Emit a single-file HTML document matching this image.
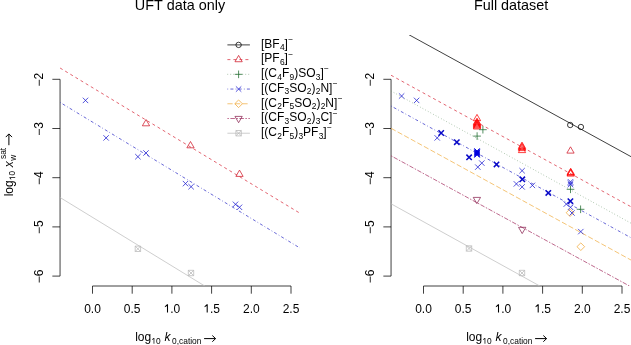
<!DOCTYPE html>
<html><head><meta charset="utf-8"><style>
html,body{margin:0;padding:0;background:#fff;width:631px;height:345px;overflow:hidden}
svg{display:block;will-change:transform;font-family:"Liberation Sans",sans-serif;font-kerning:none}
polygon,circle{stroke-linejoin:round}
</style></head><body>
<svg width="631" height="345" viewBox="0 0 631 345" font-family="Liberation Sans, sans-serif">
<rect width="631" height="345" fill="#fff"/>
<defs>
<clipPath id="c0"><rect x="60.05" y="35.0" width="239.75" height="251.0"/></clipPath>
<clipPath id="c1"><rect x="391.05" y="35.0" width="239.95000000000005" height="251.0"/></clipPath>
</defs>
<text x="180.05" y="10.3" font-size="14.4" text-anchor="middle">UFT data only</text>
<text x="511.1" y="10.3" font-size="14.4" text-anchor="middle">Full dataset</text>
<line x1="60.05" y1="79.30" x2="60.05" y2="276.10" stroke="#000" stroke-width="0.75"/>
<line x1="52.35" y1="79.30" x2="60.05" y2="79.30" stroke="#000" stroke-width="0.75"/>
<line x1="52.35" y1="128.50" x2="60.05" y2="128.50" stroke="#000" stroke-width="0.75"/>
<line x1="52.35" y1="177.70" x2="60.05" y2="177.70" stroke="#000" stroke-width="0.75"/>
<line x1="52.35" y1="226.90" x2="60.05" y2="226.90" stroke="#000" stroke-width="0.75"/>
<line x1="52.35" y1="276.10" x2="60.05" y2="276.10" stroke="#000" stroke-width="0.75"/>
<line x1="92.50" y1="286.00" x2="291.00" y2="286.00" stroke="#000" stroke-width="0.75"/>
<line x1="92.50" y1="286.00" x2="92.50" y2="293.70" stroke="#000" stroke-width="0.75"/>
<line x1="132.20" y1="286.00" x2="132.20" y2="293.70" stroke="#000" stroke-width="0.75"/>
<line x1="171.90" y1="286.00" x2="171.90" y2="293.70" stroke="#000" stroke-width="0.75"/>
<line x1="211.60" y1="286.00" x2="211.60" y2="293.70" stroke="#000" stroke-width="0.75"/>
<line x1="251.30" y1="286.00" x2="251.30" y2="293.70" stroke="#000" stroke-width="0.75"/>
<line x1="291.00" y1="286.00" x2="291.00" y2="293.70" stroke="#000" stroke-width="0.75"/>
<g transform="translate(84.16,312.50)" fill="#000"><text x="0.00" y="0.00" font-size="12.0">0.0</text></g>
<g transform="translate(123.86,312.50)" fill="#000"><text x="0.00" y="0.00" font-size="12.0">0.5</text></g>
<g transform="translate(163.56,312.50)" fill="#000"><path d="M583,0V1120L223,905V1075L600,1420H763V0Z" transform="translate(0.00,0.00) scale(0.00586,-0.00586)" stroke="none"/><text x="6.67" y="0.00" font-size="12.0">.0</text></g>
<g transform="translate(203.26,312.50)" fill="#000"><path d="M583,0V1120L223,905V1075L600,1420H763V0Z" transform="translate(0.00,0.00) scale(0.00586,-0.00586)" stroke="none"/><text x="6.67" y="0.00" font-size="12.0">.5</text></g>
<g transform="translate(242.96,312.50)" fill="#000"><text x="0.00" y="0.00" font-size="12.0">2.0</text></g>
<g transform="translate(282.66,312.50)" fill="#000"><text x="0.00" y="0.00" font-size="12.0">2.5</text></g>
<text transform="translate(42.60,79.65) rotate(-90)" font-size="12" text-anchor="middle">−2</text>
<text transform="translate(42.60,128.85) rotate(-90)" font-size="12" text-anchor="middle">−3</text>
<text transform="translate(42.60,178.05) rotate(-90)" font-size="12" text-anchor="middle">−4</text>
<text transform="translate(42.60,227.25) rotate(-90)" font-size="12" text-anchor="middle">−5</text>
<text transform="translate(42.60,276.45) rotate(-90)" font-size="12" text-anchor="middle">−6</text>
<g transform="translate(135.20,341.00)" fill="#000"><text x="0.00" y="0.00" font-size="12.0">log</text><path d="M583,0V1120L223,905V1075L600,1420H763V0Z" transform="translate(16.01,2.70) scale(0.00410,-0.00410)" stroke="none"/><text x="20.69" y="2.70" font-size="8.4">0</text><text x="29.26" y="0.00" font-size="12.0" font-style="italic">k</text><text x="36.86" y="2.70" font-size="8.4">0,cation</text></g>
<path d="M204.10,338.6H215.50M212.30,335.50L215.60,338.6L212.30,341.70" fill="none" stroke="#000" stroke-width="1"/>
<line x1="391.05" y1="79.30" x2="391.05" y2="276.10" stroke="#000" stroke-width="0.75"/>
<line x1="383.35" y1="79.30" x2="391.05" y2="79.30" stroke="#000" stroke-width="0.75"/>
<line x1="383.35" y1="128.50" x2="391.05" y2="128.50" stroke="#000" stroke-width="0.75"/>
<line x1="383.35" y1="177.70" x2="391.05" y2="177.70" stroke="#000" stroke-width="0.75"/>
<line x1="383.35" y1="226.90" x2="391.05" y2="226.90" stroke="#000" stroke-width="0.75"/>
<line x1="383.35" y1="276.10" x2="391.05" y2="276.10" stroke="#000" stroke-width="0.75"/>
<line x1="423.50" y1="286.00" x2="622.00" y2="286.00" stroke="#000" stroke-width="0.75"/>
<line x1="423.50" y1="286.00" x2="423.50" y2="293.70" stroke="#000" stroke-width="0.75"/>
<line x1="463.20" y1="286.00" x2="463.20" y2="293.70" stroke="#000" stroke-width="0.75"/>
<line x1="502.90" y1="286.00" x2="502.90" y2="293.70" stroke="#000" stroke-width="0.75"/>
<line x1="542.60" y1="286.00" x2="542.60" y2="293.70" stroke="#000" stroke-width="0.75"/>
<line x1="582.30" y1="286.00" x2="582.30" y2="293.70" stroke="#000" stroke-width="0.75"/>
<line x1="622.00" y1="286.00" x2="622.00" y2="293.70" stroke="#000" stroke-width="0.75"/>
<g transform="translate(415.16,312.50)" fill="#000"><text x="0.00" y="0.00" font-size="12.0">0.0</text></g>
<g transform="translate(454.86,312.50)" fill="#000"><text x="0.00" y="0.00" font-size="12.0">0.5</text></g>
<g transform="translate(494.56,312.50)" fill="#000"><path d="M583,0V1120L223,905V1075L600,1420H763V0Z" transform="translate(0.00,0.00) scale(0.00586,-0.00586)" stroke="none"/><text x="6.67" y="0.00" font-size="12.0">.0</text></g>
<g transform="translate(534.26,312.50)" fill="#000"><path d="M583,0V1120L223,905V1075L600,1420H763V0Z" transform="translate(0.00,0.00) scale(0.00586,-0.00586)" stroke="none"/><text x="6.67" y="0.00" font-size="12.0">.5</text></g>
<g transform="translate(573.96,312.50)" fill="#000"><text x="0.00" y="0.00" font-size="12.0">2.0</text></g>
<g transform="translate(613.66,312.50)" fill="#000"><text x="0.00" y="0.00" font-size="12.0">2.5</text></g>
<text transform="translate(373.60,79.65) rotate(-90)" font-size="12" text-anchor="middle">−2</text>
<text transform="translate(373.60,128.85) rotate(-90)" font-size="12" text-anchor="middle">−3</text>
<text transform="translate(373.60,178.05) rotate(-90)" font-size="12" text-anchor="middle">−4</text>
<text transform="translate(373.60,227.25) rotate(-90)" font-size="12" text-anchor="middle">−5</text>
<text transform="translate(373.60,276.45) rotate(-90)" font-size="12" text-anchor="middle">−6</text>
<g transform="translate(466.20,341.00)" fill="#000"><text x="0.00" y="0.00" font-size="12.0">log</text><path d="M583,0V1120L223,905V1075L600,1420H763V0Z" transform="translate(16.01,2.70) scale(0.00410,-0.00410)" stroke="none"/><text x="20.69" y="2.70" font-size="8.4">0</text><text x="29.26" y="0.00" font-size="12.0" font-style="italic">k</text><text x="36.86" y="2.70" font-size="8.4">0,cation</text></g>
<path d="M535.10,338.6H546.50M543.30,335.50L546.60,338.6L543.30,341.70" fill="none" stroke="#000" stroke-width="1"/>
<g transform="translate(12.50,196.30) rotate(-90)" fill="#000"><text x="0.00" y="0.00" font-size="12.0">log</text><path d="M583,0V1120L223,905V1075L600,1420H763V0Z" transform="translate(16.01,2.70) scale(0.00410,-0.00410)" stroke="none"/><text x="20.69" y="2.70" font-size="8.4">0</text><text x="28.96" y="0.00" font-size="12.0" font-style="italic">x</text><text x="35.56" y="3.90" font-size="8.4">w</text></g>
<g transform="translate(12.5,196.30) rotate(-90)"><text x="37.26" y="-6.8" font-size="8.4">sat</text></g>
<path d="M8.9,145.20V134.00M5.80,137.10L8.9,133.90L12.00,137.10" fill="none" stroke="#000" stroke-width="1"/>
<g clip-path="url(#c0)">
<line x1="60.05" y1="67.99" x2="304.80" y2="216.16" stroke="#D83040" stroke-width="0.75" stroke-dasharray="3 3"/>
</g>
<g clip-path="url(#c0)">
<line x1="60.05" y1="102.39" x2="304.80" y2="250.95" stroke="#3434C8" stroke-width="0.75" stroke-dasharray="0.75 2.25 3 2.25"/>
</g>
<g clip-path="url(#c0)">
<line x1="60.05" y1="197.49" x2="304.80" y2="347.20" stroke="#BEBEBE" stroke-width="0.75"/>
</g>
<g clip-path="url(#c1)">
<line x1="391.05" y1="24.91" x2="636.00" y2="159.39" stroke="#000000" stroke-width="0.75"/>
</g>
<g clip-path="url(#c1)">
<line x1="391.05" y1="75.26" x2="636.00" y2="209.49" stroke="#D83040" stroke-width="0.75" stroke-dasharray="3 3"/>
</g>
<g clip-path="url(#c1)">
<line x1="391.05" y1="91.01" x2="636.00" y2="225.97" stroke="#78A078" stroke-width="0.75" stroke-dasharray="0.75 2.25"/>
</g>
<g clip-path="url(#c1)">
<line x1="391.05" y1="106.01" x2="636.00" y2="240.49" stroke="#3434C8" stroke-width="0.75" stroke-dasharray="0.75 2.25 3 2.25"/>
</g>
<g clip-path="url(#c1)">
<line x1="391.05" y1="128.31" x2="636.00" y2="262.79" stroke="#F0B048" stroke-width="0.75" stroke-dasharray="5.25 2.25"/>
</g>
<g clip-path="url(#c1)">
<line x1="391.05" y1="155.81" x2="636.00" y2="289.55" stroke="#A83868" stroke-width="0.75" stroke-dasharray="1.5 1.5 4.5 1.5"/>
</g>
<g clip-path="url(#c1)">
<line x1="391.05" y1="203.81" x2="636.00" y2="339.17" stroke="#BEBEBE" stroke-width="0.75"/>
</g>
<path d="M82.80,97.70L88.20,103.10M82.80,103.10L88.20,97.70" fill="none" stroke="#1A1AD0" stroke-width="0.75"/>
<path d="M103.40,135.20L108.80,140.60M103.40,140.60L108.80,135.20" fill="none" stroke="#1A1AD0" stroke-width="0.75"/>
<path d="M135.20,154.00L140.60,159.40M135.20,159.40L140.60,154.00" fill="none" stroke="#1A1AD0" stroke-width="0.75"/>
<path d="M143.30,150.30L148.70,155.70M143.30,155.70L148.70,150.30" fill="none" stroke="#1A1AD0" stroke-width="0.75"/>
<path d="M182.80,180.90L188.20,186.30M182.80,186.30L188.20,180.90" fill="none" stroke="#1A1AD0" stroke-width="0.75"/>
<path d="M188.40,184.00L193.80,189.40M188.40,189.40L193.80,184.00" fill="none" stroke="#1A1AD0" stroke-width="0.75"/>
<path d="M232.80,201.60L238.20,207.00M232.80,207.00L238.20,201.60" fill="none" stroke="#1A1AD0" stroke-width="0.75"/>
<path d="M236.80,204.60L242.20,210.00M236.80,210.00L242.20,204.60" fill="none" stroke="#1A1AD0" stroke-width="0.75"/>
<polygon points="146.00,119.50 149.64,125.80 142.36,125.80" fill="none" stroke="#D01828" stroke-width="0.75"/>
<polygon points="190.50,141.50 194.14,147.80 186.86,147.80" fill="none" stroke="#D01828" stroke-width="0.75"/>
<polygon points="239.50,170.10 243.14,176.40 235.86,176.40" fill="none" stroke="#D01828" stroke-width="0.75"/>
<path d="M135.20,246.10H140.60V251.50H135.20ZM135.20,246.10L140.60,251.50M135.20,251.50L140.60,246.10" fill="none" stroke="#B8B8B8" stroke-width="0.75"/>
<path d="M188.30,270.30H193.70V275.70H188.30ZM188.30,270.30L193.70,275.70M188.30,275.70L193.70,270.30" fill="none" stroke="#B8B8B8" stroke-width="0.75"/>
<circle cx="570.20" cy="125.00" r="2.70" fill="none" stroke="#000000" stroke-width="0.75"/>
<circle cx="580.90" cy="127.00" r="2.70" fill="none" stroke="#000000" stroke-width="0.75"/>
<polygon points="477.00,114.40 480.64,120.70 473.36,120.70" fill="none" stroke="#FF0000" stroke-width="0.75"/>
<polygon points="477.00,118.10 480.64,124.40 473.36,124.40" fill="none" stroke="#FF0000" stroke-width="0.75"/>
<polygon points="477.00,119.02 480.64,125.32 473.36,125.32" fill="none" stroke="#FF0000" stroke-width="0.75"/>
<polygon points="477.00,119.94 480.64,126.24 473.36,126.24" fill="none" stroke="#FF0000" stroke-width="0.75"/>
<polygon points="477.00,120.86 480.64,127.16 473.36,127.16" fill="none" stroke="#FF0000" stroke-width="0.75"/>
<polygon points="477.00,121.78 480.64,128.08 473.36,128.08" fill="none" stroke="#FF0000" stroke-width="0.75"/>
<polygon points="477.00,122.70 480.64,129.00 473.36,129.00" fill="none" stroke="#FF0000" stroke-width="0.75"/>
<polygon points="522.00,142.10 525.64,148.40 518.36,148.40" fill="none" stroke="#FF0000" stroke-width="0.75"/>
<polygon points="522.00,143.20 525.64,149.50 518.36,149.50" fill="none" stroke="#FF0000" stroke-width="0.75"/>
<polygon points="522.00,144.30 525.64,150.60 518.36,150.60" fill="none" stroke="#FF0000" stroke-width="0.75"/>
<polygon points="522.00,146.30 525.64,152.60 518.36,152.60" fill="none" stroke="#FF0000" stroke-width="0.75"/>
<polygon points="570.50,146.80 574.14,153.10 566.86,153.10" fill="none" stroke="#D01828" stroke-width="0.75"/>
<polygon points="570.70,168.20 574.34,174.50 567.06,174.50" fill="none" stroke="#FF0000" stroke-width="0.75"/>
<polygon points="570.70,169.00 574.34,175.30 567.06,175.30" fill="none" stroke="#FF0000" stroke-width="0.75"/>
<polygon points="570.70,169.80 574.34,176.10 567.06,176.10" fill="none" stroke="#FF0000" stroke-width="0.75"/>
<path d="M473.28,136.10H480.92M477.10,132.28V139.92" fill="none" stroke="#1C6A2C" stroke-width="0.75"/>
<path d="M479.08,129.70H486.72M482.90,125.88V133.52" fill="none" stroke="#1C6A2C" stroke-width="0.75"/>
<path d="M566.68,189.30H574.32M570.50,185.48V193.12" fill="none" stroke="#1C6A2C" stroke-width="0.75"/>
<path d="M576.78,209.30H584.42M580.60,205.48V213.12" fill="none" stroke="#1C6A2C" stroke-width="0.75"/>
<path d="M398.90,93.30L404.30,98.70M398.90,98.70L404.30,93.30" fill="none" stroke="#1A1AD0" stroke-width="0.75"/>
<path d="M413.90,97.70L419.30,103.10M413.90,103.10L419.30,97.70" fill="none" stroke="#1A1AD0" stroke-width="0.75"/>
<path d="M434.50,135.20L439.90,140.60M434.50,140.60L439.90,135.20" fill="none" stroke="#1A1AD0" stroke-width="0.75"/>
<path d="M479.10,160.40L484.50,165.80M479.10,165.80L484.50,160.40" fill="none" stroke="#1A1AD0" stroke-width="0.75"/>
<path d="M475.10,164.40L480.50,169.80M475.10,169.80L480.50,164.40" fill="none" stroke="#1A1AD0" stroke-width="0.75"/>
<path d="M519.40,168.00L524.80,173.40M519.40,173.40L524.80,168.00" fill="none" stroke="#1A1AD0" stroke-width="0.75"/>
<path d="M513.70,181.20L519.10,186.60M513.70,186.60L519.10,181.20" fill="none" stroke="#1A1AD0" stroke-width="0.75"/>
<path d="M519.40,184.20L524.80,189.60M519.40,189.60L524.80,184.20" fill="none" stroke="#1A1AD0" stroke-width="0.75"/>
<path d="M529.70,182.70L535.10,188.10M529.70,188.10L535.10,182.70" fill="none" stroke="#1A1AD0" stroke-width="0.75"/>
<path d="M567.80,179.10L573.20,184.50M567.80,184.50L573.20,179.10" fill="none" stroke="#1A1AD0" stroke-width="0.75"/>
<path d="M567.80,180.50L573.20,185.90M567.80,185.90L573.20,180.50" fill="none" stroke="#1A1AD0" stroke-width="0.75"/>
<path d="M567.80,181.90L573.20,187.30M567.80,187.30L573.20,181.90" fill="none" stroke="#1A1AD0" stroke-width="0.75"/>
<path d="M563.60,201.40L569.00,206.80M563.60,206.80L569.00,201.40" fill="none" stroke="#1A1AD0" stroke-width="0.75"/>
<path d="M567.80,204.60L573.20,210.00M567.80,210.00L573.20,204.60" fill="none" stroke="#1A1AD0" stroke-width="0.75"/>
<path d="M569.30,210.30L574.70,215.70M569.30,215.70L574.70,210.30" fill="none" stroke="#1A1AD0" stroke-width="0.75"/>
<path d="M578.10,228.90L583.50,234.30M578.10,234.30L583.50,228.90" fill="none" stroke="#1A1AD0" stroke-width="0.75"/>
<path d="M438.50,130.30L443.90,135.70M438.50,135.70L443.90,130.30" fill="none" stroke="#0A0AC8" stroke-width="1.5"/>
<path d="M454.10,139.50L459.50,144.90M454.10,144.90L459.50,139.50" fill="none" stroke="#0A0AC8" stroke-width="1.5"/>
<path d="M466.40,154.60L471.80,160.00M466.40,160.00L471.80,154.60" fill="none" stroke="#0A0AC8" stroke-width="1.5"/>
<path d="M493.80,161.70L499.20,167.10M493.80,167.10L499.20,161.70" fill="none" stroke="#0A0AC8" stroke-width="1.5"/>
<path d="M519.60,176.60L525.00,182.00M519.60,182.00L525.00,176.60" fill="none" stroke="#0A0AC8" stroke-width="1.5"/>
<path d="M545.60,190.20L551.00,195.60M545.60,195.60L551.00,190.20" fill="none" stroke="#0A0AC8" stroke-width="1.5"/>
<path d="M567.70,198.50L573.10,203.90M567.70,203.90L573.10,198.50" fill="none" stroke="#0A0AC8" stroke-width="1.5"/>
<path d="M474.35,148.40L479.75,153.80M474.35,153.80L479.75,148.40" fill="none" stroke="#0000E0" stroke-width="1.0"/>
<path d="M474.35,149.02L479.75,154.42M474.35,154.42L479.75,149.02" fill="none" stroke="#0000E0" stroke-width="1.0"/>
<path d="M474.35,149.64L479.75,155.04M474.35,155.04L479.75,149.64" fill="none" stroke="#0000E0" stroke-width="1.0"/>
<path d="M474.35,150.26L479.75,155.66M474.35,155.66L479.75,150.26" fill="none" stroke="#0000E0" stroke-width="1.0"/>
<path d="M474.35,150.88L479.75,156.28M474.35,156.28L479.75,150.88" fill="none" stroke="#0000E0" stroke-width="1.0"/>
<path d="M474.35,151.50L479.75,156.90M474.35,156.90L479.75,151.50" fill="none" stroke="#0000E0" stroke-width="1.0"/>
<path d="M474.35,152.12L479.75,157.52M474.35,157.52L479.75,152.12" fill="none" stroke="#0000E0" stroke-width="1.0"/>
<polygon points="566.18,212.70 570.00,208.88 573.82,212.70 570.00,216.52" fill="none" stroke="#F0A838" stroke-width="0.75"/>
<polygon points="576.98,246.70 580.80,242.88 584.62,246.70 580.80,250.52" fill="none" stroke="#F0A838" stroke-width="0.75"/>
<polygon points="476.90,203.70 480.54,197.40 473.26,197.40" fill="none" stroke="#8A2452" stroke-width="0.75"/>
<polygon points="522.20,233.60 525.84,227.30 518.56,227.30" fill="none" stroke="#8A2452" stroke-width="0.75"/>
<path d="M466.30,245.80H471.70V251.20H466.30ZM466.30,245.80L471.70,251.20M466.30,251.20L471.70,245.80" fill="none" stroke="#B8B8B8" stroke-width="0.75"/>
<path d="M519.30,270.30H524.70V275.70H519.30ZM519.30,270.30L524.70,275.70M519.30,275.70L524.70,270.30" fill="none" stroke="#B8B8B8" stroke-width="0.75"/>
<line x1="227.40" y1="44.90" x2="249.90" y2="44.90" stroke="#000000" stroke-width="0.75"/>
<circle cx="238.60" cy="44.90" r="2.70" fill="none" stroke="#000000" stroke-width="0.75"/>
<g transform="translate(261.00,47.70)" fill="#000"><text x="0.00" y="0.00" font-size="12.0">[BF</text><text x="18.92" y="2.50" font-size="8.4">4</text><text x="23.59" y="0.00" font-size="12.0">]</text><text x="27.22" y="-5.70" font-size="8.4">−</text></g>
<line x1="227.40" y1="59.62" x2="249.90" y2="59.62" stroke="#D83040" stroke-width="0.75" stroke-dasharray="3 3"/>
<polygon points="238.60,55.42 242.24,61.72 234.96,61.72" fill="none" stroke="#D01828" stroke-width="0.75"/>
<g transform="translate(261.00,62.42)" fill="#000"><text x="0.00" y="0.00" font-size="12.0">[PF</text><text x="18.92" y="2.50" font-size="8.4">6</text><text x="23.59" y="0.00" font-size="12.0">]</text><text x="27.22" y="-5.70" font-size="8.4">−</text></g>
<line x1="227.40" y1="74.34" x2="249.90" y2="74.34" stroke="#78A078" stroke-width="0.75" stroke-dasharray="0.75 2.25"/>
<path d="M234.78,74.34H242.42M238.60,70.52V78.16" fill="none" stroke="#1C6A2C" stroke-width="0.75"/>
<g transform="translate(261.00,77.14)" fill="#000"><text x="0.00" y="0.00" font-size="12.0">[(C</text><text x="16.25" y="2.50" font-size="8.4">4</text><text x="20.92" y="0.00" font-size="12.0">F</text><text x="28.50" y="2.50" font-size="8.4">9</text><text x="33.17" y="0.00" font-size="12.0">)SO</text><text x="54.75" y="2.50" font-size="8.4">3</text><text x="59.43" y="0.00" font-size="12.0">]</text><text x="63.06" y="-5.70" font-size="8.4">−</text></g>
<line x1="227.40" y1="89.06" x2="249.90" y2="89.06" stroke="#3434C8" stroke-width="0.75" stroke-dasharray="0.75 2.25 3 2.25"/>
<path d="M235.90,86.36L241.30,91.76M235.90,91.76L241.30,86.36" fill="none" stroke="#1A1AD0" stroke-width="0.75"/>
<g transform="translate(261.00,91.86)" fill="#000"><text x="0.00" y="0.00" font-size="12.0">[(CF</text><text x="23.58" y="2.50" font-size="8.4">3</text><text x="28.25" y="0.00" font-size="12.0">SO</text><text x="45.84" y="2.50" font-size="8.4">2</text><text x="50.51" y="0.00" font-size="12.0">)</text><text x="54.75" y="2.50" font-size="8.4">2</text><text x="59.43" y="0.00" font-size="12.0">N]</text><text x="71.73" y="-5.70" font-size="8.4">−</text></g>
<line x1="227.40" y1="103.78" x2="249.90" y2="103.78" stroke="#F0B048" stroke-width="0.75" stroke-dasharray="5.25 2.25"/>
<polygon points="234.78,103.78 238.60,99.96 242.42,103.78 238.60,107.60" fill="none" stroke="#F0A838" stroke-width="0.75"/>
<g transform="translate(261.00,106.58)" fill="#000"><text x="0.00" y="0.00" font-size="12.0">[(C</text><text x="16.25" y="2.50" font-size="8.4">2</text><text x="20.92" y="0.00" font-size="12.0">F</text><text x="28.50" y="2.50" font-size="8.4">5</text><text x="33.17" y="0.00" font-size="12.0">SO</text><text x="50.76" y="2.50" font-size="8.4">2</text><text x="55.43" y="0.00" font-size="12.0">)</text><text x="59.68" y="2.50" font-size="8.4">2</text><text x="64.35" y="0.00" font-size="12.0">N]</text><text x="76.65" y="-5.70" font-size="8.4">−</text></g>
<line x1="227.40" y1="118.50" x2="249.90" y2="118.50" stroke="#A83868" stroke-width="0.75" stroke-dasharray="1.5 1.5 4.5 1.5"/>
<polygon points="238.60,122.70 242.24,116.40 234.96,116.40" fill="none" stroke="#8A2452" stroke-width="0.75"/>
<g transform="translate(261.00,121.30)" fill="#000"><text x="0.00" y="0.00" font-size="12.0">[(CF</text><text x="23.58" y="2.50" font-size="8.4">3</text><text x="28.25" y="0.00" font-size="12.0">SO</text><text x="45.84" y="2.50" font-size="8.4">2</text><text x="50.51" y="0.00" font-size="12.0">)</text><text x="54.75" y="2.50" font-size="8.4">3</text><text x="59.43" y="0.00" font-size="12.0">C]</text><text x="71.73" y="-5.70" font-size="8.4">−</text></g>
<line x1="227.40" y1="133.22" x2="249.90" y2="133.22" stroke="#BEBEBE" stroke-width="0.75"/>
<path d="M235.90,130.52H241.30V135.92H235.90ZM235.90,130.52L241.30,135.92M235.90,135.92L241.30,130.52" fill="none" stroke="#B8B8B8" stroke-width="0.75"/>
<g transform="translate(261.00,136.02)" fill="#000"><text x="0.00" y="0.00" font-size="12.0">[(C</text><text x="16.25" y="2.50" font-size="8.4">2</text><text x="20.92" y="0.00" font-size="12.0">F</text><text x="28.50" y="2.50" font-size="8.4">5</text><text x="33.17" y="0.00" font-size="12.0">)</text><text x="37.42" y="2.50" font-size="8.4">3</text><text x="42.09" y="0.00" font-size="12.0">PF</text><text x="57.67" y="2.50" font-size="8.4">3</text><text x="62.34" y="0.00" font-size="12.0">]</text><text x="65.98" y="-5.70" font-size="8.4">−</text></g>
</svg>
</body></html>
